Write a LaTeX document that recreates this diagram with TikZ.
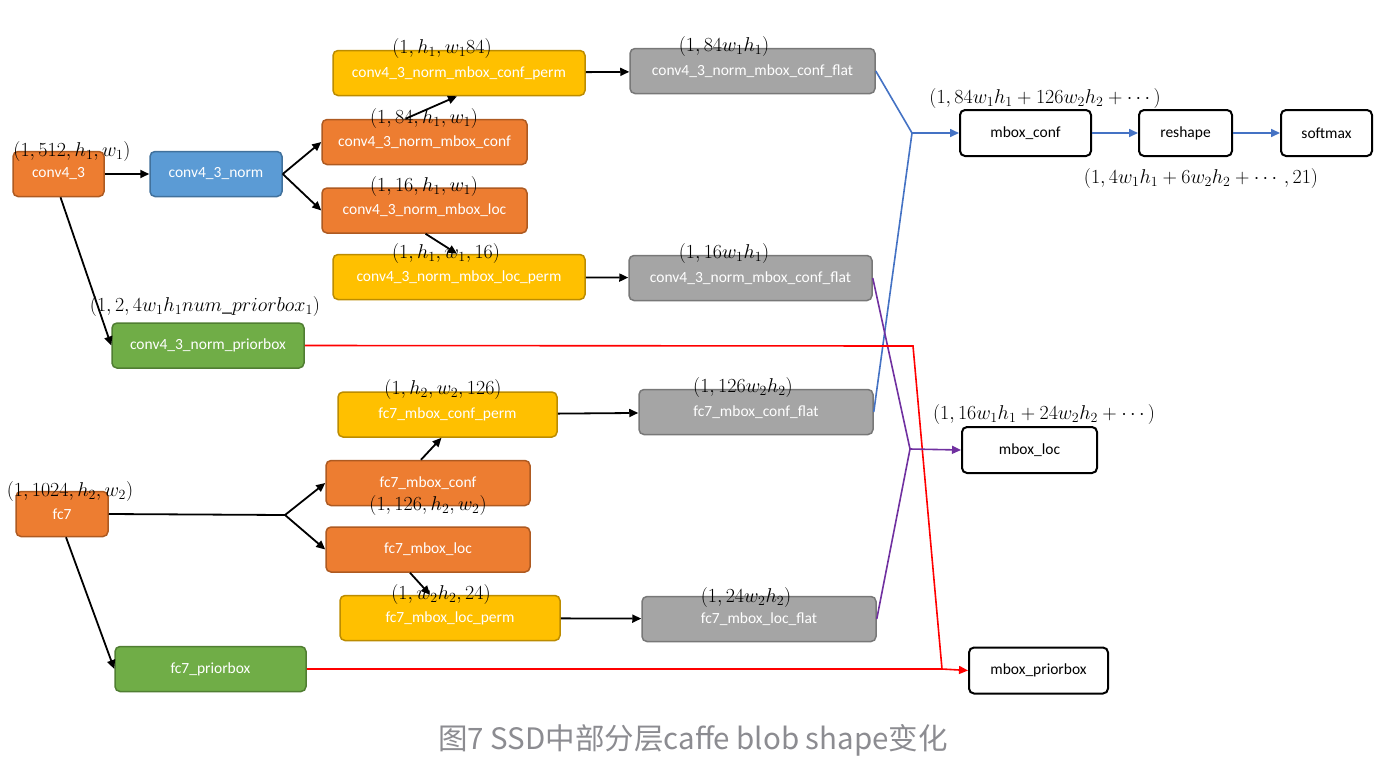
\RequirePackage{fix-cm}
\documentclass[tikz,border=0pt]{standalone}
\usepackage{amsmath}
\usepackage[no-math]{fontspec}
\setmainfont{Carlito}
\newfontfamily\cjkfont{Noto Sans CJK SC}
\usetikzlibrary{arrows.meta,calc,positioning}

\definecolor{layerorange}{HTML}{ED7D31}
\definecolor{layerorangeline}{HTML}{AE5A21}
\definecolor{layerblue}{HTML}{5B9BD5}
\definecolor{layerblueline}{HTML}{41719C}
\definecolor{layeryellow}{HTML}{FFC000}
\definecolor{layeryellowline}{HTML}{BC8C00}
\definecolor{layergreen}{HTML}{70AD47}
\definecolor{layergreenline}{HTML}{507E32}
\definecolor{layergray}{HTML}{A5A5A5}
\definecolor{layergrayline}{HTML}{787878}
\definecolor{confline}{HTML}{4472C4}
\definecolor{locline}{HTML}{7030A0}
\definecolor{priorline}{HTML}{FF0000}
\definecolor{captiongray}{RGB}{140,140,145}

\tikzset{
  layer/.style={draw, rounded corners=5pt, line width=1.5pt, inner sep=0pt,
    minimum height=45pt, text=white, font=\fontsize{15.5}{18}\selectfont},
  orangelayer/.style={layer, fill=layerorange, draw=layerorangeline},
  bluelayer/.style={layer, fill=layerblue, draw=layerblueline},
  yellowlayer/.style={layer, fill=layeryellow, draw=layeryellowline},
  greenlayer/.style={layer, fill=layergreen, draw=layergreenline},
  graylayer/.style={layer, fill=layergray, draw=layergrayline},
  outlayer/.style={layer, fill=white, draw=black, text=black, line width=2pt, minimum height=46pt},
  blobshape/.style={inner sep=0pt, font=\fontsize{20}{24}\selectfont},
  flow/.style={line width=1.8pt, -{Triangle[length=9pt,width=8pt]}},
  conflow/.style={line width=1.6pt, draw=confline},
  locflow/.style={line width=1.6pt, draw=locline},
  priorflow/.style={line width=1.6pt, draw=priorline}
}

\begin{document}
\begin{tikzpicture}[x=1pt,y=-1pt]
        \useasboundingbox[fill=white] (0,0) rectangle (1394,766);
        % conv4_3 branch
        \node[orangelayer, minimum width=91pt] (c43) at (58.5,174) {conv4\_3};
        \node[bluelayer, minimum width=132pt] (c43norm) at (216,174) {conv4\_3\_norm};
        \node[yellowlayer, minimum width=252pt] (c1perm) at (459,73) {conv4\_3\_norm\_mbox\_conf\_perm};
        \node[orangelayer, minimum width=205pt] (c1conf) at (424.5,142) {conv4\_3\_norm\_mbox\_conf};
        \node[orangelayer, minimum width=205pt] (c1loc) at (424.5,210.5) {conv4\_3\_norm\_mbox\_loc};
        \node[yellowlayer, minimum width=252pt] (c1lperm) at (459,277) {conv4\_3\_norm\_mbox\_loc\_perm};
        \node[greenlayer, minimum width=192pt] (c1prior) at (208,345.5) {conv4\_3\_norm\_priorbox};
        \node[graylayer, minimum width=245pt] (c1flat) at (752.5,71) {conv4\_3\_norm\_mbox\_conf\_flat};
        \node[graylayer, minimum width=243pt] (c1lflat) at (750.5,278) {conv4\_3\_norm\_mbox\_conf\_flat};
        % fc7 branch
        \node[orangelayer, minimum width=92pt] (f7) at (62,514) {fc7};
        \node[yellowlayer, minimum width=219pt] (f7perm) at (447.5,414.5) {fc7\_mbox\_conf\_perm};
        \node[orangelayer, minimum width=204pt] (f7conf) at (428,483) {fc7\_mbox\_conf};
        \node[orangelayer, minimum width=204pt] (f7loc) at (428,549.5) {fc7\_mbox\_loc};
        \node[yellowlayer, minimum width=220pt] (f7lperm) at (450,618) {fc7\_mbox\_loc\_perm};
        \node[greenlayer, minimum width=191pt] (f7prior) at (210.5,669) {fc7\_priorbox};
        \node[graylayer, minimum width=234pt] (f7flat) at (756,412) {fc7\_mbox\_conf\_flat};
        \node[graylayer, minimum width=234pt] (f7lflat) at (759,619) {fc7\_mbox\_loc\_flat};
        % outputs
        \node[outlayer, minimum width=131pt] (mconf) at (1025.5,133) {mbox\_conf};
        \node[outlayer, minimum width=93pt] (reshape) at (1185.5,133) {reshape};
        \node[outlayer, minimum width=91pt] (softmax) at (1326.5,133) {softmax};
        \node[outlayer, minimum width=135pt] (mloc) at (1029.5,450) {mbox\_loc};
        \node[outlayer, minimum width=139pt] (mprior) at (1038.5,670.5) {mbox\_priorbox};
        % junctions
        \coordinate (jconf) at (912,133);
        \coordinate (jloc) at (910,449);
        \coordinate (jbend) at (913,346);
        \coordinate (jprior) at (942,669);
        \coordinate (jfc) at (285,515);
        % black connectors
        \draw[flow] (c43) -- (c43norm);
        \draw[flow] (c43norm.east) -- (c1conf.west);
        \draw[flow] (c43norm.east) -- (c1loc.west);
        \draw[flow] ($(c1conf.north)+(-19,0)$) -- ($(c1perm.south)+(-2,0)$);
        \draw[flow] ($(c1loc.south)+(1,0)$) -- ($(c1lperm.north)+(-2,0)$);
        \draw[flow] (c1perm) -- (c1flat);
        \draw[flow] (c1lperm) -- (c1lflat);
        \draw[flow] ($(c43.south)+(2,0)$) -- (c1prior.west);
        \draw[line width=1.8pt] (f7.east) -- (jfc);
        \draw[flow] (jfc) -- (f7conf.west);
        \draw[flow] (jfc) -- (f7loc.west);
        \draw[flow] ($(f7conf.north)+(-7,0)$) -- ($(f7perm.south)+(-6,0)$);
        \draw[flow] ($(f7loc.south)+(-18,0)$) -- ($(f7lperm.north)+(-20,0)$);
        \draw[flow] (f7perm) -- (f7flat);
        \draw[flow] (f7lperm) -- (f7lflat);
        \draw[flow] ($(f7.south)+(4,0)$) -- (f7prior.west);
        % coloured connectors
        \draw[conflow] (c1flat.east) -- (jconf) (f7flat.east) -- (jconf);
        \draw[locflow] (c1lflat.east) -- (jloc) (f7lflat.east) -- (jloc);
        \draw[priorflow] (c1prior.east) -- (jbend) -- (jprior) (f7prior.east) -- (jprior);
        \draw[conflow, -{Triangle[length=9pt,width=8pt]}] (jconf) -- (mconf.west);
        \draw[conflow, -{Triangle[length=9pt,width=8pt]}] (mconf) -- (reshape);
        \draw[conflow, -{Triangle[length=9pt,width=8pt]}] (reshape) -- (softmax);
        \draw[locflow, -{Triangle[length=9pt,width=8pt]}] (jloc) -- (mloc.west);
        \draw[priorflow, -{Triangle[length=9pt,width=8pt]}] (jprior) -- (mprior.west);
        % blob shapes
        \node[blobshape] (s43) at (72,151) {$(1,512,h_1,w_1)$};
        \node[blobshape] (s1perm) at (442,48) {$(1,h_1,w_1 84)$};
        \node[blobshape] (s1conf) at (424,118) {$(1,84,h_1,w_1)$};
        \node[blobshape] (s1loc) at (424,186) {$(1,16,h_1,w_1)$};
        \node[blobshape] (s1lperm) at (446,253) {$(1,h_1,w_1,16)$};
        \node[blobshape] (s1prior) at (205,306) {$(1,2,4w_1h_1num\_priorbox_1)$};
        \node[blobshape] (s1flat) at (724,46) {$(1,84w_1h_1)$};
        \node[blobshape] (s1lflat) at (724,253) {$(1,16w_1h_1)$};
        \node[blobshape] (smconf) at (1045,98) {$(1,84w_1h_1+126w_2h_2+\cdots)$};
        \node[blobshape] (sreshape) at (1201,178) {$(1,4w_1h_1+6w_2h_2+\cdots,21)$};
        \node[blobshape] (s7) at (70,491) {$(1,1024,h_2,w_2)$};
        \node[blobshape] (s7perm) at (443,389) {$(1,h_2,w_2,126)$};
        \node[blobshape] (s7conf) at (428,505) {$(1,126,h_2,w_2)$};
        \node[blobshape] (s7lperm) at (441,594) {$(1,w_2h_2,24)$};
        \node[blobshape] (s7flat) at (743,387) {$(1,126w_2h_2)$};
        \node[blobshape] (s7lflat) at (746,597) {$(1,24w_2h_2)$};
        \node[blobshape] (smloc) at (1044,414) {$(1,16w_1h_1+24w_2h_2+\cdots)$};
        % caption
        \node[text=captiongray, font=\cjkfont\fontsize{29.5}{34}\selectfont] (caption) at (693,740) {图7 SSD中部分层caffe blob shape变化};
      \end{tikzpicture}
\end{document}
